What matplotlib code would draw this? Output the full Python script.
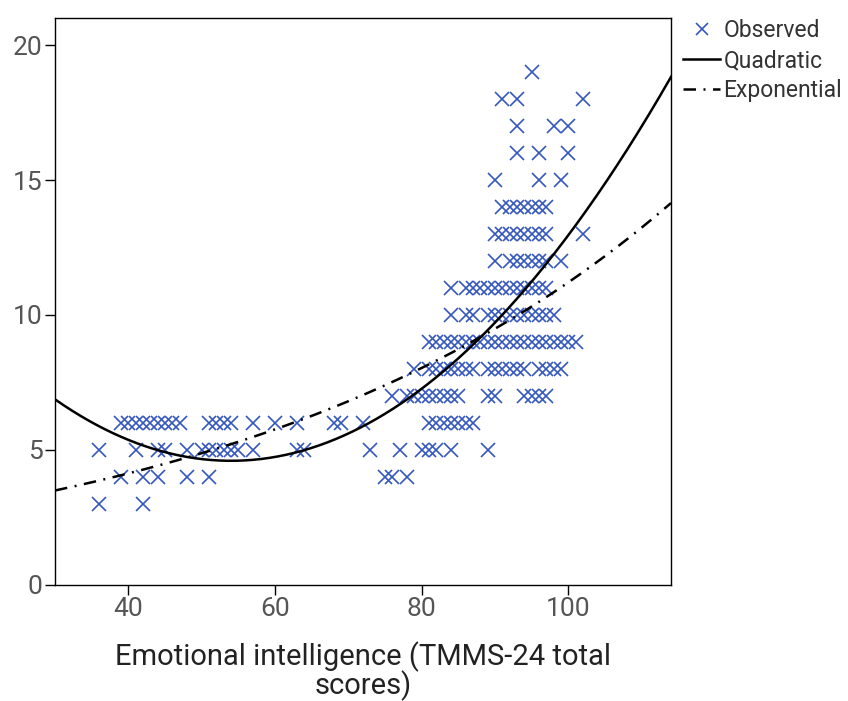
import numpy as np
import matplotlib
matplotlib.use("Agg")
import matplotlib.pyplot as plt
from matplotlib.lines import Line2D

# Observed scores, read row by row (outcome value -> TMMS-24 totals)
tmms_total = [
    36, 42,
    39, 42, 44, 48, 51, 75, 76, 78,
    36, 41, 44, 45, 48, 50, 51, 52, 53, 54, 55, 57, 63, 64, 73, 77, 80, 81, 82, 84, 89,
    39, 40, 41, 42, 43, 44, 45, 46, 47, 51, 52, 53, 54, 57, 60, 63, 68, 69, 72,
    81, 82, 83, 84, 85, 86, 87,
    76, 78, 79, 80, 81, 82, 83, 84, 85, 89, 90, 94, 95, 96, 97,
    79, 81, 82, 83, 84, 85, 86, 87, 89, 90, 91, 92, 93, 94, 96, 97, 98, 99,
    81, 82, 83, 84, 85, 86, 87, 88, 89, 90, 91, 92, 93, 94, 95, 96, 97, 98, 99, 100, 101,
    84, 86, 87, 89, 90, 91, 92, 93, 94, 95, 96, 97, 98,
    84, 86, 87, 88, 89, 90, 91, 92, 93, 94, 95, 96, 97,
    90, 92, 93, 94, 95, 96, 97, 99,
    90, 91, 92, 93, 94, 95, 96, 97, 102,
    91, 92, 93, 94, 95, 96, 97,
    90, 96, 99,
    93, 96, 100,
    93, 98, 100,
    91, 93, 102,
    95,
]
row_values = [3, 4, 5, 6, 7, 8, 9, 10, 11, 12, 13, 14, 15, 16, 17, 18, 19]
row_counts = [2, 8, 21, 26, 15, 18, 21, 13, 13, 8, 9, 7, 3, 3, 3, 3, 1]
outcome = np.repeat(row_values, row_counts)

# Fitted curves (coefficients estimated from the plotted lines)
quad_vertex_x = 54.0
quad_vertex_y = 4.6
quad_a = 0.00395
exp_c = 2.125
exp_b = 0.01663

x_range = (30, 114)
y_range = (0, 21.0)

fig = plt.figure(figsize=(8.48, 7.01), dpi=100)
ax = fig.add_axes([0.0649, 0.1655, 0.7264, 0.8088])

ax.plot(tmms_total, outcome, linestyle="none", marker="x", markersize=10,
        markeredgewidth=1.2, color="#3558BE", label="Observed")

xs = np.linspace(*x_range, 300)
ax.plot(xs, quad_a * (xs - quad_vertex_x) ** 2 + quad_vertex_y,
        color="black", lw=1.8, label="Quadratic")
ax.plot(xs, exp_c * np.exp(exp_b * xs), color="black", lw=1.8,
        linestyle=(0, (5, 3, 0.8, 3)), label="Exponential")

ax.set_xlim(*x_range)
ax.set_ylim(*y_range)
ax.set_xticks([40, 60, 80, 100])
ax.set_yticks([0, 5, 10, 15, 20])
ax.tick_params(direction="out", length=7, width=1, labelsize=19,
               labelcolor="#555555", pad=2)
for s in ax.spines.values():
    s.set_linewidth(1)
    s.set_color("black")

ax.set_xlabel("Emotional intelligence (TMMS-24 total\nscores)", fontsize=21,
              color="#222222", fontfamily="Roboto", labelpad=14,
              linespacing=0.95)
for lab in ax.get_xticklabels() + ax.get_yticklabels():
    lab.set_fontfamily("Roboto")

handles = [
    Line2D([], [], linestyle="none", marker="x", markersize=8,
           markeredgewidth=1.2, color="#3558BE"),
    Line2D([], [], color="black", lw=1.8),
    Line2D([], [], color="black", lw=1.8, linestyle=(0, (5, 3, 0.8, 3))),
]
leg = ax.legend(handles, ["Observed", "Quadratic", "Exponential"],
                loc="upper left", bbox_to_anchor=(1.005, 1.015), frameon=False,
                prop={"family": "Roboto", "size": 16.5}, handlelength=1.6,
                handletextpad=0.15, labelspacing=0.32, borderaxespad=0)
for t in leg.get_texts():
    t.set_color("#333333")

fig.savefig("out.png", dpi=100)
